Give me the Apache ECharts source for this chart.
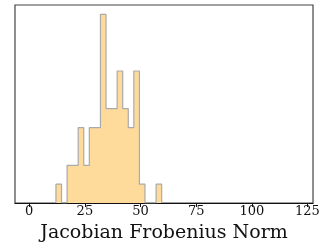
<!DOCTYPE html>
<html><head><meta charset="utf-8">
<script src="https://cdn.jsdelivr.net/npm/echarts@6/dist/echarts.min.js"></script>
<style>html,body{margin:0;padding:0;background:#fff}#c{width:326px;height:248px}</style>
</head><body><div id="c"></div>
<script>
// Histogram bin edges and counts
const binEdges = [12.0,14.5,17.0,19.5,22.0,24.5,27.0,29.5,32.0,34.5,37.0,39.5,42.0,44.5,47.0,49.5,52.0,54.5,57.0,59.5];
const counts   = [1,0,2,2,4,2,4,4,10,5,5,7,5,4,7,1,0,0,1];
const xTicks = [0,25,50,75,100,125];
const xLabel = 'Jacobian Frobenius Norm';

const stepData = [[binEdges[0],0]];
for (let i=0;i<counts.length;i++) stepData.push([binEdges[i], counts[i]]);
stepData.push([binEdges[binEdges.length-1], counts[counts.length-1]]);
stepData.push([binEdges[binEdges.length-1], 0]);

const chart = echarts.init(document.getElementById('c'), null, {renderer:'canvas'});
chart.setOption({
  animation:false,
  grid:{left:15, top:5, right:13, bottom:44, show:true, borderColor:'#444', borderWidth:1.2, backgroundColor:'transparent'},
  xAxis:{type:'value', min:-6.4, max:127.5,
    axisLine:{show:true, onZero:false, lineStyle:{color:'#111', width:1.2}},
    axisTick:{show:true, length:4, customValues:xTicks, lineStyle:{color:'#111'}},
    axisLabel:{customValues:xTicks, fontFamily:'DejaVu Serif', fontSize:13, color:'#111', margin:2},
    splitLine:{show:false},
    name:xLabel, nameLocation:'middle', nameGap:21,
    nameTextStyle:{fontFamily:'DejaVu Serif', fontSize:19, color:'#111'}
  },
  yAxis:{type:'value', min:0, max:10.5, show:false, splitLine:{show:false}},
  series:[{type:'line', step:'end', data:stepData, symbol:'none',
    lineStyle:{color:'#aaaaaa', width:1.2},
    areaStyle:{color:'#fedb9b', opacity:1}
  }]
});
</script></body></html>
